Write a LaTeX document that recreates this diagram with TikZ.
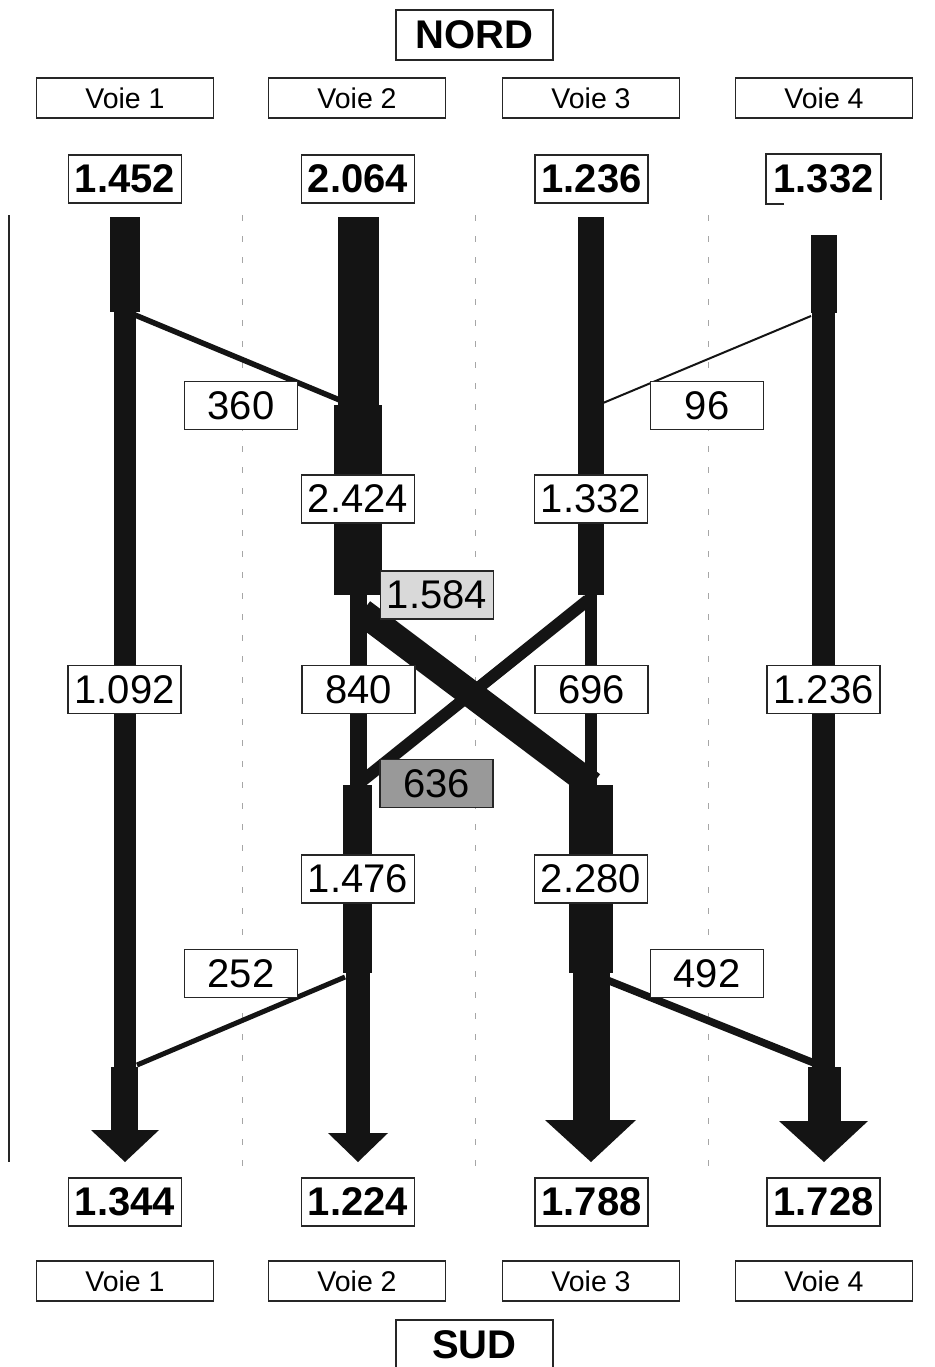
\documentclass[tikz,border=0pt]{standalone}
\usepackage{fontspec}
\setmainfont{Liberation Sans}
\begin{document}
\begin{tikzpicture}[x=1pt,y=-1pt,
  lbl/.style={draw=black!85, line width=1.2pt, fill=white, inner sep=0pt,
    minimum width=113pt, minimum height=48pt, font=\fontsize{40}{44}\selectfont},
  tot/.style={lbl, line width=1.6pt, font=\fontsize{40}{44}\selectfont\bfseries},
  lane/.style={draw=black!85, line width=1.2pt, fill=white, inner sep=0pt,
    minimum width=177pt, minimum height=40pt, font=\fontsize{28.5}{30}\selectfont},
  card/.style={draw=black!85, line width=1.6pt, fill=white, inner sep=0pt,
    minimum width=157pt, minimum height=50pt, font=\fontsize{40}{44}\selectfont\bfseries},
  flow/.style={fill=black!92},
  link/.style={draw=black!92, line cap=butt},
  guide/.style={draw=black!35, line width=1pt, dash pattern=on 6pt off 15pt}
]
\clip (0,0) rectangle (934,1367);
\fill[white] (0,0) rectangle (934,1367);

% guide lines between the lanes
\draw[line width=1.5pt, black!85] (9,215) -- (9,1162);
\foreach \gx in {242,475,708} \draw[guide] (\gx,215) -- (\gx,1168);

% lane 1
\fill[flow] (110,217) rectangle (140,312);
\fill[flow] (114,312) rectangle (136,1067);
\fill[flow] (111,1067) rectangle (138,1130);
\fill[flow] (91,1130) -- (159,1130) -- (125,1162) -- cycle;
% lane 2
\fill[flow] (338,217) rectangle (379,405);
\fill[flow] (334,405) rectangle (382,595);
\fill[flow] (350,595) rectangle (367,785);
\fill[flow] (343,785) rectangle (372,973);
\fill[flow] (346,973) rectangle (370,1133);
\fill[flow] (328,1133) -- (388,1133) -- (358,1162) -- cycle;
% lane 3
\fill[flow] (578,217) rectangle (604,595);
\fill[flow] (585,595) rectangle (597,785);
\fill[flow] (569,785) rectangle (613,973);
\fill[flow] (573,973) rectangle (610,1120);
\fill[flow] (545,1120) -- (636,1120) -- (591,1162) -- cycle;
% lane 4
\fill[flow] (811,235) rectangle (837,313);
\fill[flow] (812,313) rectangle (835,1067);
\fill[flow] (808,1067) rectangle (841,1121);
\fill[flow] (779,1121) -- (868,1121) -- (824,1162) -- cycle;

% lane changes
\coordinate (s360) at (135,315);  \coordinate (e360) at (342,401);
\coordinate (s96)  at (811,316);  \coordinate (e96)  at (603,403);
\coordinate (s1584) at (362,612); \coordinate (e1584) at (592,785);
\coordinate (s636) at (588,600);  \coordinate (e636) at (362,781);
\coordinate (s252) at (345,977);  \coordinate (e252) at (137,1065);
\coordinate (s492) at (607,980);  \coordinate (e492) at (814,1063);
\draw[link, line width=5.5pt] (s360) -- (e360);
\draw[link, line width=2pt] (s96) -- (e96);
\draw[link, line width=27pt] (s1584) -- (e1584);
\draw[link, line width=12pt] (s636) -- (e636);
\draw[link, line width=5pt] (s252) -- (e252);
\draw[link, line width=7.5pt] (s492) -- (e492);

% headings
\node[card] (nord) at (474.5,35) {NORD};
\node[card] (sud) at (474.5,1345) {SUD};
\foreach \i/\lx in {1/125,2/357,3/591,4/824} {
  \node[lane] (vn\i) at (\lx,98) {Voie \i};
  \node[lane] (vs\i) at (\lx,1281) {Voie \i};
}

% entering and leaving totals
\node[tot] (in1) at (125,179) {1.452};
\node[tot] (in2) at (358,179) {2.064};
\node[tot] (in3) at (591.5,179) {1.236};
\node[tot, draw=none] (in4) at (823.5,179) {1.332};
\draw[black!85, line width=1.6pt] ([xshift=18pt]in4.south west) -- (in4.south west)
  -- (in4.north west) -- (in4.north east) -- ([yshift=4pt]in4.south east);
\node[tot] (out1) at (125,1202) {1.344};
\node[tot] (out2) at (358,1202) {1.224};
\node[tot] (out3) at (591.5,1202) {1.788};
\node[tot] (out4) at (823.5,1202) {1.728};

% flow values
\node[lbl] (v360) at (241,405.5) {360};
\node[lbl] (v96) at (707,405.5) {96};
\node[lbl] (v2424) at (358,499) {2.424};
\node[lbl] (v1332) at (591,499) {1.332};
\node[lbl, fill=black!15] (v1584) at (437,595) {1.584};
\node[lbl] (v1092) at (124.5,689.5) {1.092};
\node[lbl] (v840) at (358.5,689.5) {840};
\node[lbl] (v696) at (591.5,689.5) {696};
\node[lbl] (v1236) at (823.5,689.5) {1.236};
\node[lbl, fill=black!40] (v636) at (436.5,783.5) {636};
\node[lbl] (v1476) at (358,879) {1.476};
\node[lbl] (v2280) at (591,879) {2.280};
\node[lbl] (v252) at (241,973.5) {252};
\node[lbl] (v492) at (707,973.5) {492};
\end{tikzpicture}
\end{document}
